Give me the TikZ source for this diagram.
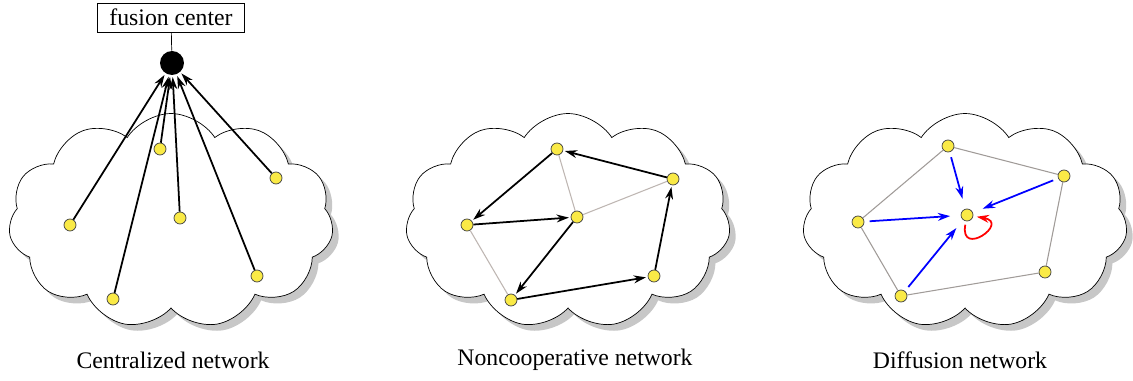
\documentclass[tikz,border=0pt]{standalone}
\usepackage{fontspec}
\setmainfont{Liberation Serif}
\usetikzlibrary{arrows.meta,shapes.symbols,shadows}
\definecolor{dotyellow}{RGB}{250,234,70}
\definecolor{linkgray}{RGB}{190,182,178}
\definecolor{linkdark}{RGB}{160,155,152}

\begin{document}
\begin{tikzpicture}
  [x=0.02cm, y=-0.02cm,
   >={Stealth[length=7pt,width=4.5pt]},
   font=\fontsize{13.5}{16}\selectfont,
   cloudnode/.style={cloud, cloud puffs=11, cloud puff arc=115,
                     draw=black, fill=white,
                     minimum width=6.5cm, minimum height=4.3cm,
                     drop shadow={fill=black!22, opacity=1,
                                  shadow xshift=3.5pt, shadow yshift=-3.5pt}},
   agent/.style={circle, draw=black!75, fill=dotyellow,
                 minimum size=0.24cm, inner sep=0pt},
   fusion/.style={circle, fill=black, minimum size=0.48cm, inner sep=0pt},
   fcbox/.style={rectangle, draw=black, minimum width=84pt,
                 minimum height=16.5pt, inner sep=0pt},
   link/.style={draw=linkgray, line width=0.6pt},
   flow/.style={->, line width=1pt, shorten >=1pt},
   combine/.style={->, blue, line width=1pt, shorten <=3pt, shorten >=6pt},]
  \useasboundingbox (0,0) rectangle (1133,381);

  % clouds
  \node[cloudnode] (cl1) at (171,221) {};
  \node[cloudnode] (cl2) at (568,221) {};
  \node[cloudnode] (cl3) at (965,221) {};

  % centralized
  \node[fcbox]  (fc)  at (171,17.5) {fusion center};
  \node[fusion] (fcd) at (172,63)   {};
  \node[agent]  (c1)  at (70,225)   {};
  \node[agent]  (c2)  at (160,149)  {};
  \node[agent]  (c3)  at (180,218)  {};
  \node[agent]  (c4)  at (276,178)  {};
  \node[agent]  (c5)  at (113,299)  {};
  \node[agent]  (c6)  at (257,276)  {};
  \draw (fc) -- (fcd);
  \path[flow]
  (c1) edge (fcd)
  (c2) edge (fcd)
  (c3) edge (fcd)
  (c4) edge (fcd)
  (c5) edge (fcd)
  (c6) edge (fcd);

  % noncooperative
  \node[agent] (n1) at (557,149) {};
  \node[agent] (n2) at (673,179) {};
  \node[agent] (n3) at (467,225) {};
  \node[agent] (n4) at (577,217) {};
  \node[agent] (n5) at (654,276) {};
  \node[agent] (n6) at (511,300) {};
  \path[link]
  (n1) edge (n4)
  (n4) edge (n2)
  (n3) edge (n6);
  \path[flow]
  (n2) edge (n1)
  (n1) edge (n3)
  (n3) edge (n4)
  (n4) edge (n6)
  (n6) edge (n5)
  (n5) edge (n2);

  % diffusion
  \node[agent] (d1) at (948,146)  {};
  \node[agent] (d2) at (1064,176) {};
  \node[agent] (d3) at (858,222)  {};
  \node[agent] (d4) at (967,215)  {};
  \node[agent] (d5) at (1045,272) {};
  \node[agent] (d6) at (901,296)  {};
  \path[link, draw=linkdark]
  (d3) edge (d1)
  (d1) edge (d2)
  (d2) edge (d5)
  (d5) edge (d6)
  (d6) edge (d3);
  \path[combine]
  (d1) edge (d4)
  (d2) edge (d4)
  (d3) edge (d4)
  (d6) edge (d4);
  \path[->, red, line width=1pt]
  (d4) edge [out=-100, in=-10, min distance=0.75cm,
             shorten <=2pt, shorten >=2pt] (d4);

  % captions
  \node (t1) at (173,360) {Centralized network};
  \node (t2) at (575,360) {Noncooperative network};
  \node (t3) at (960,360) {Diffusion network};
\end{tikzpicture}
\end{document}
